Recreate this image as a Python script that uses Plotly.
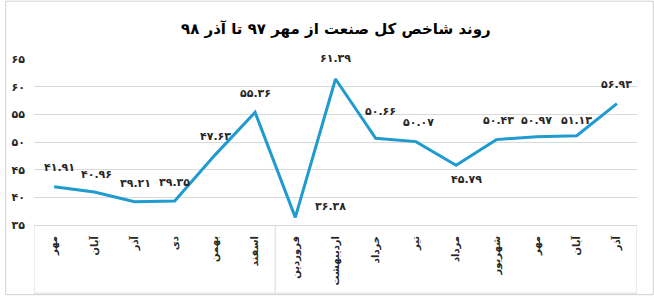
import plotly.graph_objects as go

title_text = "روند شاخص کل صنعت از مهر ۹۷ تا آذر ۹۸"
categories = ["مهر", "آبان", "آذر", "دی", "بهمن", "اسفند", "فروردین", "اردیبهشت",
              "خرداد", "تیر", "مرداد", "شهریور", "مهر", "آبان", "آذر"]
values = [41.91, 40.96, 39.21, 39.35, 47.63, 55.36, 36.38, 61.39,
          50.66, 50.07, 45.79, 50.43, 50.97, 51.13, 56.93]
y_ticks = [35, 40, 45, 50, 55, 60, 65]
group_sizes = [6, 9]  # year 97 months, year 98 months

# per-label pixel offsets (style only)
label_dx = [5, 2, 1, 0, 1, 0, 35, 0, 5, 3, 10, 2, 0, 0, 0]
label_dy = [19, 18, 18, 18, 19, 19, 11, 20, 27, 19, -14, 19, 16, 15, 19]

FA = str.maketrans("0123456789", "۰۱۲۳۴۵۶۷۸۹")
def fa(s):
    return str(s).translate(FA)

FONT = "DejaVu Sans"
LINE_COLOR = "#1F9BCF"
GRID = "#D9D9D9"

W, H = 654, 298
ML, MR, MT, MB = 29, 17, 59, 71
PW, PH = W - ML - MR, H - MT - MB
BOX_H = 69

x_idx = list(range(len(categories)))

fig = go.Figure()
fig.add_trace(go.Scatter(
    x=x_idx, y=values, mode="lines",
    line=dict(color=LINE_COLOR, width=3),
    hoverinfo="skip", showlegend=False,
))

annotations = []
for i, v in enumerate(values):
    annotations.append(dict(
        x=i, y=v, xref="x", yref="y", text="<b>" + fa(f"{v:.2f}") + "</b>",
        showarrow=False, xshift=label_dx[i], yshift=label_dy[i],
        font=dict(family=FONT, size=11, color="#262626"),
    ))
annotations.append(dict(
    x=0.5, y=1 + (MT - 29) / PH, xref="paper", yref="paper",
    text="<b>" + title_text + "</b>", showarrow=False,
    font=dict(family=FONT, size=15, color="#000000"),
    xanchor="center", yanchor="middle",
))

shapes = []
# category box
bounds = [-0.5]
for g in group_sizes:
    bounds.append(bounds[-1] + g)
yb = -BOX_H / PH
for b in bounds:
    shapes.append(dict(type="line", xref="x", yref="paper", x0=b, x1=b, y0=0, y1=yb,
                       line=dict(color=GRID, width=1)))
shapes.append(dict(type="line", xref="x", yref="paper", x0=bounds[0], x1=bounds[-1],
                   y0=yb, y1=yb, line=dict(color=GRID, width=1)))
# outer chart border
shapes.append(dict(type="rect", xref="paper", yref="paper",
                   x0=-(ML - 0.5) / PW, x1=1 + (MR - 0.5) / PW,
                   y0=-(MB - 0.5) / PH, y1=1 + (MT - 0.5) / PH,
                   line=dict(color="#D0D0D0", width=1), fillcolor="rgba(0,0,0,0)", layer="below"))

fig.update_layout(
    width=W, height=H,
    margin=dict(l=ML, r=MR, t=MT, b=MB),
    paper_bgcolor="white", plot_bgcolor="white",
    annotations=annotations, shapes=shapes,
    xaxis=dict(
        range=[-0.5, len(categories) - 0.5],
        tickmode="array", tickvals=x_idx, ticktext=["<b>" + c + "</b>" for c in categories],
        tickangle=-90, showgrid=False, showline=True, linecolor=GRID, linewidth=1,
        ticks="", ticklabelstandoff=6,
        tickfont=dict(family=FONT, size=10, color="#262626"),
        zeroline=False, fixedrange=True,
    ),
    yaxis=dict(
        range=[y_ticks[0], y_ticks[-1]],
        tickmode="array", tickvals=y_ticks, ticktext=["<b>" + fa(t) + "</b>" for t in y_ticks],
        showgrid=True, gridcolor=GRID, gridwidth=1, zeroline=False,
        ticks="", ticklabelstandoff=8,
        tickfont=dict(family=FONT, size=11, color="#262626"),
        fixedrange=True,
    ),
)

fig.write_html("out.html")
